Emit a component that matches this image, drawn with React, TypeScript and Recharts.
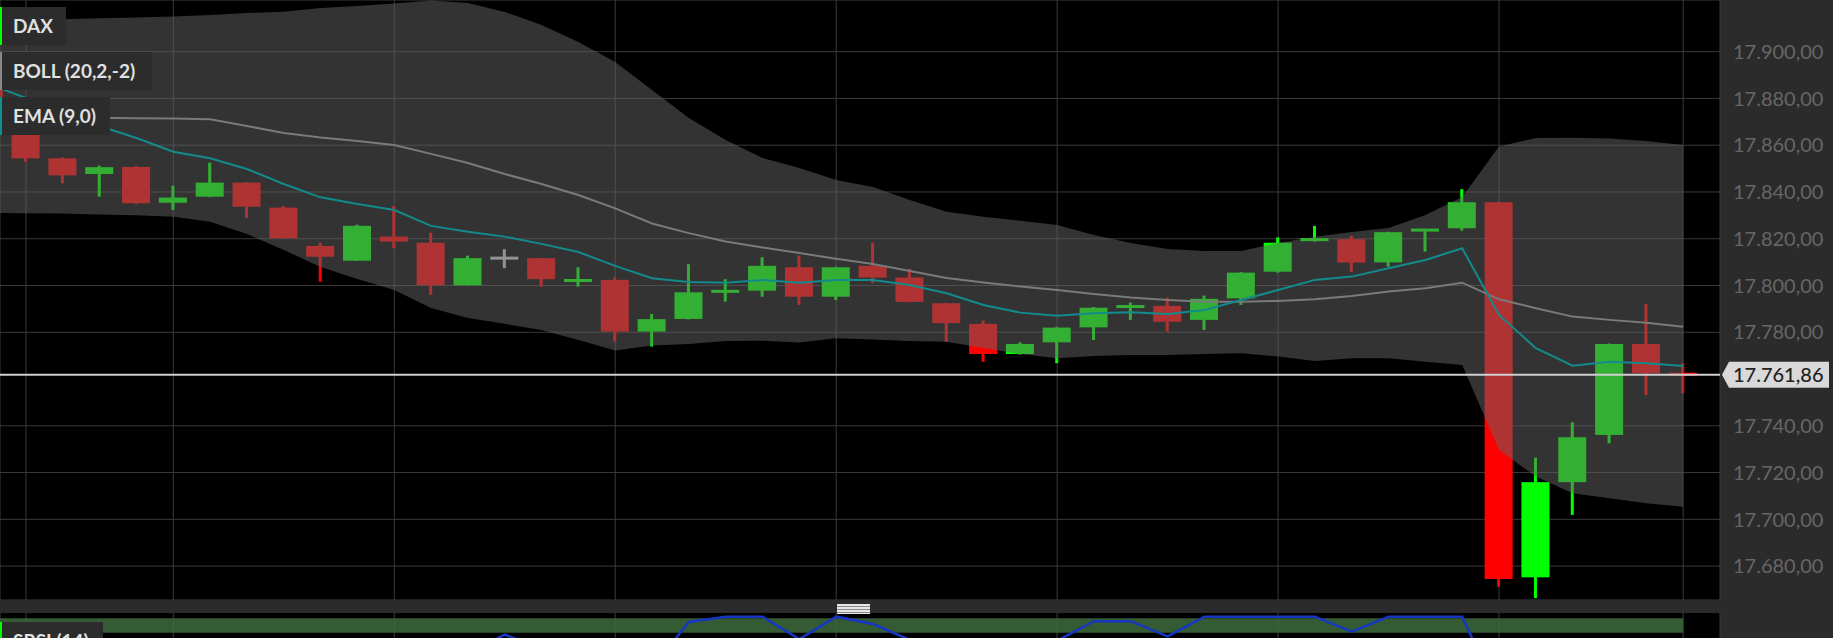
import React from 'react'
import {
  ComposedChart,
  Bar,
  Area,
  Line,
  XAxis,
  YAxis,
  CartesianGrid,
  ReferenceLine,
  ReferenceArea,
} from 'recharts'

// candle index of the first entry (one candle sits just off the left edge)
const FIRST_INDEX = -1

const opens = [
  17886.0, 17864.8, 17854.4, 17847.7, 17850.7, 17835.4, 17838.0, 17844.0, 17833.3, 17816.9,
  17810.6, 17820.9, 17818.3, 17800.1, 17811.7, 17811.7, 17801.6, 17802.4, 17780.3, 17785.7,
  17797.3, 17797.8, 17807.8, 17795.2, 17808.4, 17803.4, 17792.4, 17783.6, 17770.7, 17775.7,
  17782.1, 17790.7, 17791.3, 17785.3, 17794.5, 17805.9, 17819.4, 17819.8, 17809.9, 17823.3,
  17824.5, 17835.6, 17675.2, 17715.9, 17736.1, 17775.0, 17762.3,
]
const closes = [
  17866.0, 17854.4, 17847.1, 17850.6, 17835.2, 17837.6, 17844.0, 17833.7, 17820.2, 17812.3,
  17825.5, 17818.8, 17800.1, 17811.7, 17811.7, 17802.7, 17802.7, 17780.3, 17785.6, 17797.1,
  17797.7, 17808.4, 17795.2, 17807.8, 17803.4, 17793.0, 17783.9, 17770.7, 17775.0, 17782.0,
  17790.5, 17791.3, 17784.5, 17794.3, 17805.5, 17818.3, 17819.8, 17809.8, 17822.8, 17824.1,
  17835.6, 17674.5, 17715.9, 17735.1, 17775.0, 17762.5, 17761.86,
]
const highs = [
  17888.0, 17866.0, 17854.8, 17851.3, 17851.1, 17842.6, 17852.5, 17844.2, 17834.0, 17818.3,
  17826.0, 17834.0, 17822.6, 17812.8, 17815.5, 17811.8, 17807.8, 17803.4, 17787.8, 17809.1,
  17802.7, 17812.1, 17812.8, 17808.0, 17818.3, 17807.1, 17792.6, 17785.0, 17775.7, 17782.2,
  17790.8, 17792.7, 17794.8, 17795.7, 17805.7, 17820.6, 17825.5, 17821.2, 17823.0, 17824.2,
  17841.2, 17835.8, 17726.4, 17741.5, 17775.2, 17792.1, 17766.8,
]
const lows = [
  17864.0, 17853.0, 17843.7, 17838.0, 17834.9, 17832.3, 17837.8, 17828.8, 17820.0, 17801.6,
  17810.5, 17815.9, 17796.0, 17800.0, 17807.4, 17799.5, 17799.5, 17776.0, 17773.9, 17785.5,
  17793.1, 17795.2, 17791.7, 17793.8, 17801.0, 17792.8, 17776.0, 17767.4, 17770.5, 17766.8,
  17776.7, 17785.3, 17780.3, 17781.0, 17791.7, 17805.5, 17818.8, 17805.9, 17808.1, 17814.5,
  17823.5, 17671.2, 17666.3, 17701.9, 17732.5, 17753.2, 17753.9,
]

// BOLL (20,2,-2)
const bollUpper = [
  17913.1, 17913.6, 17913.9, 17914.3, 17914.6, 17915.0, 17915.7, 17916.5, 17917.1, 17918.7,
  17919.5, 17920.6, 17921.9, 17920.8, 17917.0, 17911.4, 17904.1, 17895.6, 17883.6, 17871.6,
  17862.2, 17854.5, 17850.2, 17845.1, 17842.1, 17836.6, 17831.5, 17829.4, 17827.7, 17825.9,
  17821.6, 17818.2, 17815.6, 17814.8, 17814.8, 17818.2, 17820.8, 17822.9, 17824.6, 17830.2,
  17837.9, 17859.4, 17863.1, 17863.2, 17862.9, 17861.8, 17860.1,
]
const bollMid = [
  17872.1, 17872.1, 17872.0, 17871.7, 17871.5, 17871.4, 17871.1, 17868.2, 17865.2, 17863.3,
  17861.8, 17860.1, 17856.3, 17852.4, 17847.7, 17843.4, 17838.7, 17833.0, 17826.5, 17822.4,
  17818.8, 17816.3, 17813.9, 17811.4, 17809.2, 17806.2, 17803.2, 17801.3, 17799.6, 17798.1,
  17796.4, 17794.9, 17793.8, 17793.0, 17793.1, 17793.4, 17794.1, 17795.5, 17797.4, 17798.8,
  17801.2, 17794.1, 17790.3, 17786.7, 17785.3, 17784.1, 17782.4,
]
const bollLower = [
  17831.0, 17830.9, 17830.8, 17830.4, 17830.0, 17829.4, 17827.3, 17822.0, 17815.2, 17807.9,
  17802.8, 17798.1, 17790.4, 17786.1, 17783.6, 17781.0, 17776.7, 17772.2, 17774.3, 17775.0,
  17776.3, 17776.4, 17775.6, 17777.4, 17776.9, 17776.3, 17775.9, 17773.3, 17770.7, 17768.9,
  17769.9, 17770.3, 17770.3, 17770.7, 17771.0, 17769.6, 17767.7, 17768.9, 17768.9, 17767.4,
  17766.0, 17729.7, 17718.3, 17711.2, 17709.0, 17706.9, 17705.4,
]

// EMA (9,0)
const ema = [
  17886.1, 17880.2, 17874.2, 17868.2, 17863.1, 17857.2, 17854.4, 17849.8, 17843.4, 17837.7,
  17834.9, 17832.3, 17825.5, 17823.0, 17820.9, 17817.8, 17814.3, 17808.4, 17803.1, 17801.5,
  17801.2, 17802.4, 17801.2, 17802.4, 17802.4, 17800.2, 17796.7, 17791.7, 17788.4, 17787.1,
  17788.1, 17788.6, 17787.8, 17789.5, 17793.8, 17798.1, 17802.4, 17803.8, 17807.4, 17810.9,
  17815.9, 17787.4, 17773.2, 17765.7, 17767.4, 17766.8, 17765.6,
]

// SRSI (14) - only the top of the panel is visible
const srsi = [
  22, 18, 12, 8, 14, 22, 28, 20, 12, 8,
  30, 42, 55, 55, 77.6, 60, 48, 40, 36, 93.4,
  100, 100, 72, 100, 90.9, 71, 52, 44, 56, 70,
  94.4, 94.4, 75.4, 100, 100, 100, 100, 81.4, 100, 100,
  100, 0, 4, 18, 40, 46, 42,
]

// 17.760 is hidden behind the last-price tag
const priceTicks = [17680, 17700, 17720, 17740, 17780, 17800, 17820, 17840, 17860, 17880, 17900]
const gridCandles = [0, 4, 10, 16, 22, 28, 34, 40, 45]
const lastPrice = 17761.86
const priceDomain: [number, number] = [17665.5, 17922.1]
const indexDomain: [number, number] = [-0.706, 46.0]
const srsiDomain: [number, number] = [73.4, 104.6]
const srsiZone: [number, number] = [80, 98]

const legendItems = [
  { label: 'DAX', color: '#00ff00', top: 7, width: 66 },
  { label: 'BOLL (20,2,-2)', color: '#8a8a8a', top: 52, width: 152 },
  { label: 'EMA (9,0)', color: '#119090', top: 97, width: 110 },
]

const data = opens.map((open, k) => ({
  i: k + FIRST_INDEX,
  open,
  close: closes[k],
  high: highs[k],
  low: lows[k],
  candle: [lows[k], highs[k]],
  band: [bollLower[k], bollUpper[k]],
  mid: bollMid[k],
  ema: ema[k],
  srsi: srsi[k],
}))

const fmt = (v: number) => {
  const [int, dec] = v.toFixed(2).split('.')
  return int.replace(/\B(?=(\d{3})+(?!\d))/g, '.') + ',' + dec
}

const FONT = 'Lato, "Open Sans", sans-serif'
const GRID = '#3a3a3a'

const Candle = (props: any) => {
  const { x, y, width, height, payload } = props
  if (x == null || !payload) return null
  const top = Math.min(y, y + height)
  const bottom = Math.max(y, y + height)
  const { open, close, high, low } = payload
  const py = (v: number) => top + ((high - v) / (high - low)) * (bottom - top)
  const color = close > open ? '#00ff00' : close < open ? '#ff0000' : '#c4c4c4'
  const cx = x + width / 2
  let bTop = py(Math.max(open, close))
  let bBot = py(Math.min(open, close))
  if (bBot - bTop < 3) {
    const m = (bTop + bBot) / 2
    bTop = m - 1.5
    bBot = m + 1.5
  }
  return (
    <g>
      <rect x={cx - 1.5} y={top} width={3} height={bottom - top} fill={color} />
      <rect x={x} y={bTop} width={width} height={bBot - bTop} fill={color} />
    </g>
  )
}

const PriceTick = (props: any) => {
  const { x, y, payload } = props
  return (
    <text x={x + 5} y={y} dy="0.36em" fill="#666" fontSize={20} fontFamily={FONT} textAnchor="start">
      {fmt(payload.value)}
    </text>
  )
}

const PriceTag = (props: any) => {
  const vb = props.viewBox || {}
  const x0 = (vb.x ?? 0) + (vb.width ?? 0)
  const y = vb.y ?? 0
  return (
    <g>
      <polygon
        points={`${x0 + 2},${y} ${x0 + 9},${y - 13} ${x0 + 109},${y - 13} ${x0 + 109},${y + 13} ${x0 + 9},${y + 13}`}
        fill="#d9d9d9"
      />
      <text x={x0 + 13} y={y} dy="0.36em" fill="#222" fontSize={20} fontWeight={500} fontFamily={FONT}>
        {fmt(lastPrice)}
      </text>
    </g>
  )
}

const legendBox = (label: string, color: string, top: number, width: number) => (
  <div
    key={label}
    style={{
      position: 'absolute',
      left: 0,
      top,
      width,
      height: 38,
      background: '#2c2c2c',
      borderLeft: `2px solid ${color}`,
      boxSizing: 'border-box',
      paddingLeft: 11,
      color: '#e0e0e0',
      fontFamily: FONT,
      fontWeight: 700,
      fontSize: 19,
      lineHeight: '38px',
      whiteSpace: 'nowrap',
    }}
  >
    {label}
  </div>
)

export default function App() {
  return (
    <div
      style={{
        position: 'absolute',
        left: 0,
        top: 0,
        width: 1833,
        height: 638,
        background: '#000',
        overflow: 'hidden',
      }}
    >
      {/* price axis panel */}
      <div style={{ position: 'absolute', left: 1720, top: 0, width: 113, height: 638, background: '#2b2b2b' }} />
      {/* splitter between panes */}
      <div style={{ position: 'absolute', left: 0, top: 600, width: 1833, height: 13, background: '#2b2b2b' }} />

      <div style={{ position: 'absolute', left: 0, top: 0 }}>
        <ComposedChart width={1833} height={600} data={data} margin={{ top: 0, right: 0, left: 0, bottom: 0 }}>
          <XAxis type="number" dataKey="i" domain={indexDomain} ticks={gridCandles} allowDataOverflow hide />
          <YAxis
            orientation="right"
            width={113}
            domain={priceDomain}
            allowDataOverflow
            ticks={priceTicks}
            axisLine={false}
            tickLine={false}
            tick={<PriceTick />}
          />
          <CartesianGrid stroke={GRID} />
          <Bar dataKey="candle" barSize={28} shape={<Candle />} isAnimationActive={false} zIndex={300} />
          {/* the band is translucent and sits over the candles */}
          <Area
            dataKey="band"
            type="linear"
            stroke="none"
            fill="rgb(100,100,100)"
            fillOpacity={0.51}
            isAnimationActive={false}
            zIndex={350}
          />
          <Line dataKey="mid" type="linear" stroke="#7a7a7a" strokeWidth={2} dot={false} isAnimationActive={false} zIndex={400} />
          <Line dataKey="ema" type="linear" stroke="#138b8c" strokeWidth={2} dot={false} isAnimationActive={false} zIndex={410} />
          <ReferenceLine y={lastPrice} stroke="#cfcfcf" strokeWidth={2} label={<PriceTag />} zIndex={450} />
        </ComposedChart>
      </div>

      <div style={{ position: 'absolute', left: 0, top: 613 }}>
        <ComposedChart width={1833} height={25} data={data} margin={{ top: 0, right: 113, left: 0, bottom: 0 }}>
          <XAxis type="number" dataKey="i" domain={indexDomain} ticks={gridCandles} allowDataOverflow hide />
          <YAxis hide domain={srsiDomain} allowDataOverflow />
          <CartesianGrid stroke={GRID} horizontal={false} />
          <ReferenceArea
            x1={indexDomain[0]}
            x2={gridCandles[gridCandles.length - 1]}
            y1={srsiZone[0]}
            y2={srsiZone[1]}
            fill="#3d6b3d"
            fillOpacity={0.85}
            stroke="none"
          />
          <Line dataKey="srsi" type="linear" stroke="#1637c4" strokeWidth={2.5} dot={false} isAnimationActive={false} />
        </ComposedChart>
      </div>

      {/* pane drag handle */}
      <div
        style={{
          position: 'absolute',
          left: 837,
          top: 604,
          width: 33,
          height: 10,
          background: 'repeating-linear-gradient(#e6e6e6 0 2px, #8a8a8a 2px 3px)',
        }}
      />

      {legendItems.map((l) => legendBox(l.label, l.color, l.top, l.width))}
      {legendBox('SRSI (14)', '#00ff00', 622, 103)}
    </div>
  )
}
